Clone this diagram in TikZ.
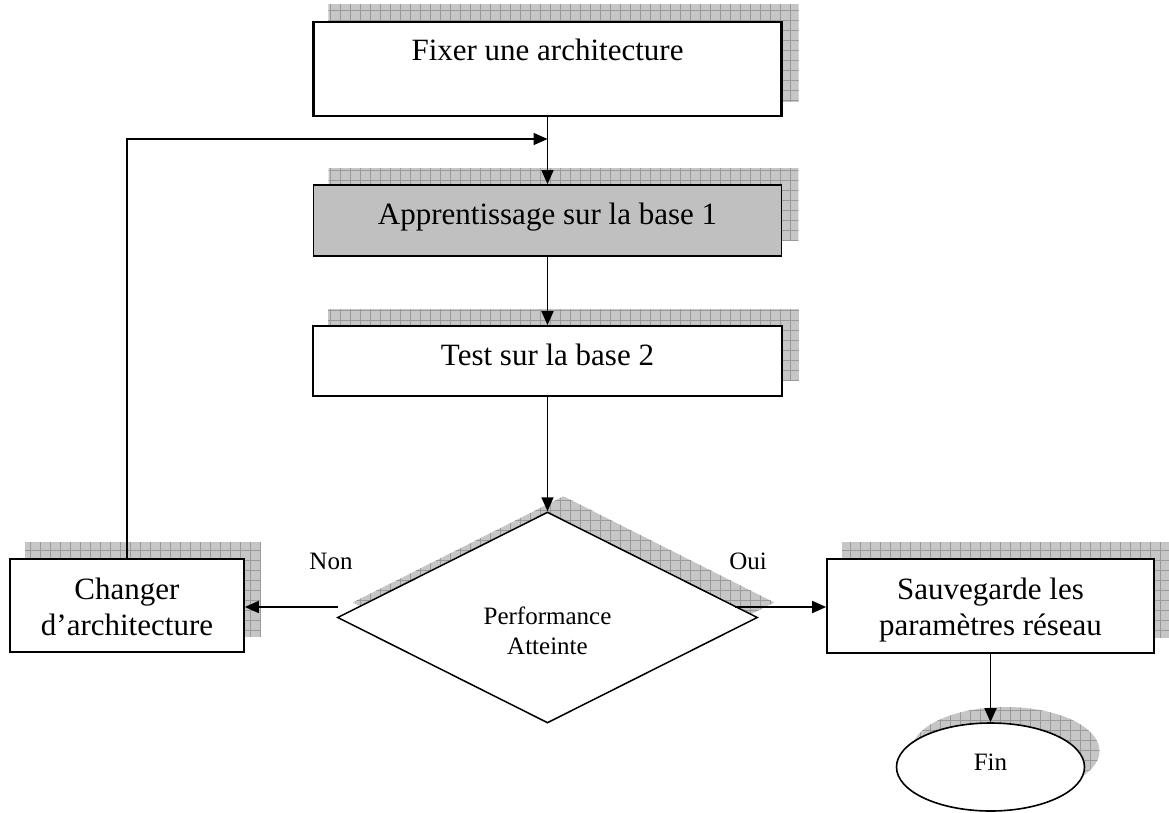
\documentclass[tikz,border=0pt]{standalone}
\usepackage{fontspec}
\setmainfont{Liberation Serif}
\usetikzlibrary{shapes.geometric,arrows.meta}
\pgfdeclarelayer{background}
\pgfsetlayers{background,main}
\definecolor{shadefill}{HTML}{C6C6C6}
\definecolor{shadegrid}{HTML}{9A9A9A}
\definecolor{boxgray}{HTML}{C0C0C0}
\tikzset{
  outline/.style={draw, line width=1.7pt, fill=white, inner sep=0pt},
  box/.style={outline, rectangle},
  bigtext/.style={font=\fontsize{31}{36}\selectfont, inner sep=0pt, align=center, anchor=base},
  smalltext/.style={font=\fontsize{25}{30}\selectfont, inner sep=0pt, align=center, anchor=base},
  link/.style={line width=1.7pt, -{Triangle[length=14pt,width=12pt]}},
  grid lines/.style={draw=shadegrid, line width=0.7pt},
}
% hatched drop shadow filling the given closed path
\newcommand{\hatchshadow}[1]{%
  \begin{scope}
    \clip #1;
    \fill[shadefill] (0,0) rectangle (1169,813);
    \draw[grid lines] \foreach \gx in {0,10,...,1170} {(\gx,0) -- (\gx,813)};
    \draw[grid lines] \foreach \gy in {0,10,...,820} {(0,\gy) -- (1169,\gy)};
  \end{scope}}
\begin{document}
\begin{tikzpicture}[x=1pt, y=-1pt]
  \useasboundingbox (0,0) rectangle (1169,813);

  % process boxes
  \node[box, line width=2.4pt, minimum width=468pt, minimum height=94pt] (fix) at (547.5,69) {};
  \node[box, fill=boxgray, minimum width=468pt, minimum height=71pt] (app) at (547.5,220.5) {};
  \node[box, minimum width=469pt, minimum height=70pt] (test) at (547.5,361) {};
  \node[outline, shape=diamond, line width=1.5pt, minimum width=420pt, minimum height=211pt] (dia) at (547.5,617.5) {};
  \node[box, minimum width=234pt, minimum height=93pt] (chg) at (127,605.5) {};
  \node[box, minimum width=327pt, minimum height=94pt] (sav) at (990.5,606) {};
  \node[outline, shape=ellipse, line width=1.6pt, minimum width=188pt, minimum height=88pt] (fin) at (990.5,767) {};

  % texts (multi-line nodes sit on the baseline of their last line)
  \node[bigtext] (fixT) at ([yshift=-40pt]fix.north) {Fixer une architecture};
  \node[bigtext] (appT) at ([yshift=-40pt]app.north) {Apprentissage sur la base 1};
  \node[bigtext] (testT) at ([yshift=-40pt]test.north) {Test sur la base 2};
  \node[bigtext] (chgT) at (127,635) {Changer\\d’architecture};
  \node[bigtext] (savT) at (990.5,635) {Sauvegarde les\\paramètres réseau};
  \node[smalltext] (diaT) at (547.5,654) {Performance\\Atteinte};
  \node[smalltext] (finT) at (990.5,770) {Fin};
  \node[smalltext] (non) at (331,569) {Non};
  \node[smalltext] (oui) at (748,569) {Oui};

  % shadows behind the shapes
  \begin{pgfonlayer}{background}
    \hatchshadow{([shift={(16,-16)}]fix.south west) rectangle ([shift={(16,-16)}]fix.north east)}
    \hatchshadow{([shift={(16,-16)}]app.south west) rectangle ([shift={(16,-16)}]app.north east)}
    \hatchshadow{([shift={(16,-16)}]test.south west) rectangle ([shift={(16,-16)}]test.north east)}
    \hatchshadow{([shift={(16,-16)}]chg.south west) rectangle ([shift={(16,-16)}]chg.north east)}
    \hatchshadow{([shift={(16,-16)}]sav.south west) rectangle ([shift={(16,-16)}]sav.north east)}
    \hatchshadow{([shift={(16,-15)}]dia.north) -- ([shift={(16,-15)}]dia.east) -- ([shift={(16,-15)}]dia.south) -- ([shift={(16,-15)}]dia.west) -- cycle}
    \hatchshadow{([shift={(15,-16)}]fin.center) ellipse [x radius=94, y radius=44]}
  \end{pgfonlayer}

  % connectors
  \coordinate (nonA) at (338,607);
  \coordinate (ouiA) at (735,607);
  \coordinate (loopc) at (127,139);
  \draw[link] (fix.south) -- (app.north);
  \draw[link] (app.south) -- (test.north);
  \draw[link] (test.south) -- (dia.north);
  \draw[link] (nonA) -- (nonA -| chg.east);
  \draw[link] (ouiA) -- (ouiA -| sav.west);
  \draw[link] (sav.south) -- (fin.north);
  \draw[link] (chg.north) -- (loopc) -- (loopc -| app.north);
\end{tikzpicture}
\end{document}
